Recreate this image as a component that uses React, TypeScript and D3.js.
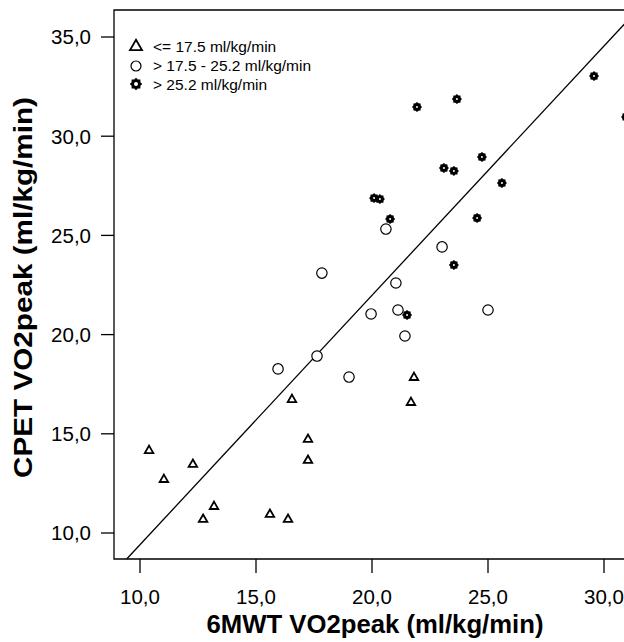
import React from "react";
import * as d3 from "d3";

const xTicks = [10, 15, 20, 25, 30];
const yTicks = [10, 15, 20, 25, 30, 35];
const tickFmt = (v: number) => v.toFixed(1).replace(".", ",");

const triX = [10.39, 11.03, 12.28, 12.72, 13.19, 15.6, 16.38, 16.55, 17.24, 17.24, 21.68, 21.81];
const triY = [14.18, 12.72, 13.48, 10.71, 11.36, 10.96, 10.71, 16.75, 14.74, 13.68, 16.6, 17.86];

const circX = [15.95, 17.63, 17.84, 19.01, 19.96, 20.6, 21.03, 21.12, 21.42, 23.02, 25.0];
const circY = [18.27, 18.92, 23.1, 17.86, 21.04, 25.32, 22.6, 21.24, 19.93, 24.42, 21.24];

const starX = [20.09, 20.34, 20.78, 21.51, 21.94, 23.1, 23.53, 23.53, 23.66, 24.53, 24.74, 25.6, 29.57, 30.95];
const starY = [26.88, 26.83, 25.83, 20.99, 31.47, 28.4, 28.25, 23.51, 31.87, 25.88, 28.95, 27.64, 33.03, 30.97];

const legendLabels = ["<= 17.5 ml/kg/min", "> 17.5 - 25.2 ml/kg/min", "> 25.2 ml/kg/min"];

const fitIntercept = -3.16;
const fitSlope = 1.257;

const xTitle = "6MWT VO2peak (ml/kg/min)";
const yTitle = "CPET VO2peak (ml/kg/min)";

const FONT = "'Liberation Sans', Arial, sans-serif";

function triPath(s: number) {
  const h = s * 0.87;
  return `M0,${-h * 0.6}L${s / 2},${h * 0.4}L${-s / 2},${h * 0.4}Z`;
}

function starPath(rOut: number, rIn: number, n = 8) {
  const pts: [number, number][] = [];
  for (let i = 0; i < n * 2; i++) {
    const r = i % 2 === 0 ? rOut : rIn;
    const a = (Math.PI * i) / n - Math.PI / 2;
    pts.push([r * Math.cos(a), r * Math.sin(a)]);
  }
  return d3.line()(pts) + "Z";
}

export default function App() {
  const W = 624, H = 642;
  const x = d3.scaleLinear().domain([10, 30]).range([140, 604]);
  const y = d3.scaleLinear().domain([10, 35]).range([533, 37]);
  const left = 114, top = 10, bottom = 559, right = 637;
  const xMin = x.invert(left), xMax = x.invert(right);
  const yMin = y.invert(bottom), yMax = y.invert(top);

  const x0 = Math.max(xMin, (yMin - fitIntercept) / fitSlope);
  const x1 = Math.min(xMax, (yMax - fitIntercept) / fitSlope);
  const fitLine = d3.line<number>()
    .x((d) => x(d))
    .y((d) => y(fitIntercept + fitSlope * d))([x0, x1]);

  const star = starPath(5, 4);
  const starBig = starPath(6.2, 4.8);

  return (
    <svg width={W} height={H} style={{ position: "absolute", left: 0, top: 0, background: "#fff" }} fontFamily={FONT}>
      <rect x={0} y={0} width={W} height={H} fill="#fff" />
      <path d={`M${right},${top}H${left}V${bottom}H${right}`} fill="none" stroke="#000" strokeWidth={1.3} />
      {yTicks.map((t) => (
        <g key={"y" + t}>
          <line x1={left - 13} x2={left} y1={y(t)} y2={y(t)} stroke="#000" strokeWidth={1.3} />
          <text x={91} y={y(t)} dy="0.36em" textAnchor="end" fontSize={20.5}>{tickFmt(t)}</text>
        </g>
      ))}
      {xTicks.map((t) => (
        <g key={"x" + t}>
          <line x1={x(t)} x2={x(t)} y1={bottom} y2={bottom + 14} stroke="#000" strokeWidth={1.3} />
          <text x={x(t)} y={bottom + 45} textAnchor="middle" fontSize={20.5}>{tickFmt(t)}</text>
        </g>
      ))}
      <text x={375} y={633} textAnchor="middle" fontSize={25} fontWeight="bold" textLength={337} lengthAdjust="spacingAndGlyphs">{xTitle}</text>
      <text transform={`translate(32,${(top + bottom) / 2 + 3}) rotate(-90)`} textAnchor="middle" fontSize={26} fontWeight="bold" textLength={381} lengthAdjust="spacingAndGlyphs">{yTitle}</text>

      <path d={fitLine ?? ""} fill="none" stroke="#000" strokeWidth={1.3} />

      {triX.map((v, i) => (
        <path key={"t" + i} d={triPath(8.5)} transform={`translate(${x(v)},${y(triY[i])})`} fill="#fff" stroke="#000" strokeWidth={1.8} />
      ))}
      {circX.map((v, i) => (
        <circle key={"c" + i} cx={x(v)} cy={y(circY[i])} r={5.2} fill="#fff" stroke="#000" strokeWidth={1.2} />
      ))}
      {starX.map((v, i) => (
        <g key={"s" + i} transform={`translate(${x(v)},${y(starY[i])})`}>
          <path d={star} fill="#000" />
          <circle r={1} fill="#fff" />
        </g>
      ))}

      <g fontSize={15.5}>
        <path d={triPath(12)} transform="translate(136,46)" fill="#fff" stroke="#000" strokeWidth={1.8} />
        <text x={153} y={47} dy="0.35em">{legendLabels[0]}</text>
        <circle cx={136} cy={66} r={5} fill="#fff" stroke="#000" strokeWidth={1.2} />
        <text x={153} y={66} dy="0.35em">{legendLabels[1]}</text>
        <g transform="translate(136,84)">
          <path d={starBig} fill="#000" />
          <circle r={2} fill="#fff" />
        </g>
        <text x={153} y={85} dy="0.35em">{legendLabels[2]}</text>
      </g>
    </svg>
  );
}
